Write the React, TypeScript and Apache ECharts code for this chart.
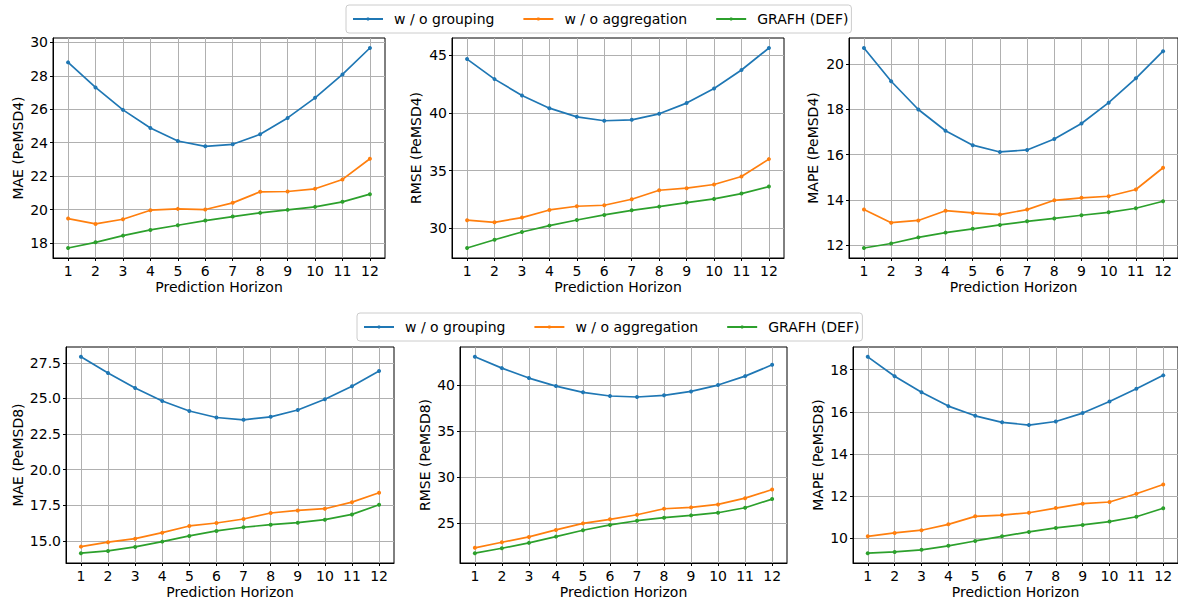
import React, { useEffect, useRef } from "react";
import * as echarts from "echarts";

const horizons = [1, 2, 3, 4, 5, 6, 7, 8, 9, 10, 11, 12];
const seriesNames = ["w / o grouping", "w / o aggregation", "GRAFH (DEF)"];
const colors = ["#1f77b4", "#ff7f0e", "#2ca02c"];

const mae4Grouping = [28.8, 27.3, 25.96, 24.88, 24.1, 23.78, 23.9, 24.5, 25.48, 26.68, 28.08, 29.66];
const mae4Aggregation = [19.46, 19.14, 19.42, 19.96, 20.04, 20.0, 20.4, 21.06, 21.08, 21.24, 21.8, 23.04];
const mae4Grafh = [17.7, 18.04, 18.44, 18.78, 19.06, 19.34, 19.58, 19.8, 19.98, 20.16, 20.46, 20.92];

const rmse4Grouping = [44.68, 42.94, 41.52, 40.42, 39.67, 39.33, 39.41, 39.93, 40.86, 42.13, 43.73, 45.64];
const rmse4Aggregation = [30.7, 30.52, 30.93, 31.59, 31.91, 32.0, 32.52, 33.3, 33.48, 33.8, 34.49, 36.0];
const rmse4Grafh = [28.29, 29.01, 29.68, 30.23, 30.72, 31.16, 31.56, 31.88, 32.23, 32.55, 33.01, 33.62];

const mape4Grouping = [20.72, 19.25, 18.0, 17.06, 16.42, 16.12, 16.21, 16.69, 17.38, 18.3, 19.38, 20.58];
const mape4Aggregation = [13.57, 12.99, 13.09, 13.52, 13.42, 13.35, 13.57, 13.98, 14.09, 14.16, 14.46, 15.42];
const mape4Grafh = [11.87, 12.07, 12.34, 12.55, 12.72, 12.89, 13.05, 13.18, 13.32, 13.45, 13.63, 13.94];

const mae8Grouping = [27.92, 26.78, 25.73, 24.82, 24.12, 23.66, 23.5, 23.71, 24.19, 24.94, 25.85, 26.92];
const mae8Aggregation = [14.6, 14.91, 15.16, 15.58, 16.05, 16.26, 16.54, 16.96, 17.14, 17.26, 17.72, 18.38];
const mae8Grafh = [14.14, 14.3, 14.58, 14.95, 15.35, 15.7, 15.96, 16.14, 16.28, 16.49, 16.86, 17.54];

const rmse8Grouping = [43.07, 41.84, 40.76, 39.89, 39.21, 38.81, 38.7, 38.88, 39.31, 40.0, 40.97, 42.2];
const rmse8Aggregation = [22.3, 22.91, 23.49, 24.25, 24.96, 25.4, 25.9, 26.55, 26.7, 27.02, 27.7, 28.64];
const rmse8Grafh = [21.72, 22.26, 22.84, 23.52, 24.21, 24.79, 25.25, 25.58, 25.83, 26.12, 26.66, 27.6];

const mape8Grouping = [18.61, 17.69, 16.93, 16.27, 15.81, 15.5, 15.37, 15.54, 15.94, 16.49, 17.09, 17.73];
const mape8Aggregation = [10.09, 10.25, 10.38, 10.66, 11.04, 11.1, 11.21, 11.43, 11.64, 11.72, 12.11, 12.55];
const mape8Grafh = [9.29, 9.35, 9.45, 9.64, 9.87, 10.09, 10.3, 10.49, 10.63, 10.79, 11.02, 11.42];

const ticksMae4 = [18, 20, 22, 24, 26, 28, 30];
const ticksRmse4 = [30, 35, 40, 45];
const ticksMape4 = [12, 14, 16, 18, 20];
const ticksMae8 = [15, 17.5, 20, 22.5, 25, 27.5];
const ticksRmse8 = [25, 30, 35, 40];
const ticksMape8 = [10, 12, 14, 16, 18];

const xAxisTitle = "Prediction Horizon";

const panels = [
  { ylabel: "MAE (PeMSD4)", data: [mae4Grouping, mae4Aggregation, mae4Grafh], ticks: ticksMae4, decimals: 0,
    grid: { left: 53, top: 38, width: 332, height: 220 }, nameGap: 28 },
  { ylabel: "RMSE (PeMSD4)", data: [rmse4Grouping, rmse4Aggregation, rmse4Grafh], ticks: ticksRmse4, decimals: 0,
    grid: { left: 452, top: 38, width: 332, height: 220 }, nameGap: 29 },
  { ylabel: "MAPE (PeMSD4)", data: [mape4Grouping, mape4Aggregation, mape4Grafh], ticks: ticksMape4, decimals: 0,
    grid: { left: 849, top: 38, width: 332, height: 220 }, nameGap: 29 },
  { ylabel: "MAE (PeMSD8)", data: [mae8Grouping, mae8Aggregation, mae8Grafh], ticks: ticksMae8, decimals: 1,
    grid: { left: 66, top: 347, width: 328, height: 216 }, nameGap: 41 },
  { ylabel: "RMSE (PeMSD8)", data: [rmse8Grouping, rmse8Aggregation, rmse8Grafh], ticks: ticksRmse8, decimals: 0,
    grid: { left: 460, top: 347, width: 327, height: 216 }, nameGap: 28 },
  { ylabel: "MAPE (PeMSD8)", data: [mape8Grouping, mape8Aggregation, mape8Grafh], ticks: ticksMape8, decimals: 0,
    grid: { left: 853, top: 347, width: 329, height: 216 }, nameGap: 28 },
];

const FONT = "DejaVu Sans";

export default function App() {
  const ref = useRef<HTMLDivElement>(null);

  useEffect(() => {
    if (!ref.current) return;
    const chart = echarts.init(ref.current, null, { renderer: "svg" });

    const grids: any[] = [];
    const xAxes: any[] = [];
    const yAxes: any[] = [];
    const series: any[] = [];

    panels.forEach((p, i) => {
      const all = p.data.flat();
      const lo = Math.min(...all);
      const hi = Math.max(...all);
      const pad = (hi - lo) * 0.05;
      grids.push({
        ...p.grid,
        show: true,
        borderColor: "#000",
        borderWidth: 1,
        backgroundColor: "transparent",
        containLabel: false,
      });
      xAxes.push({
        type: "value",
        gridIndex: i,
        min: 0.45,
        max: 12.55,
        name: xAxisTitle,
        nameLocation: "middle",
        nameGap: 22,
        nameTextStyle: { fontFamily: FONT, fontSize: 14, color: "#000" },
        axisLine: { show: true, onZero: false, lineStyle: { color: "#000", width: 1 } },
        axisTick: { show: true, length: 3, inside: false, customValues: horizons, lineStyle: { color: "#000" } },
        axisLabel: { show: true, customValues: horizons, margin: 6, fontFamily: FONT, fontSize: 14, color: "#000" },
        splitLine: { show: true, lineStyle: { color: "#b0b0b0", width: 1 } },
      });
      yAxes.push({
        type: "value",
        gridIndex: i,
        min: lo - pad,
        max: hi + pad,
        name: p.ylabel,
        nameLocation: "middle",
        nameGap: p.nameGap,
        nameTextStyle: { fontFamily: FONT, fontSize: 14, color: "#000" },
        axisLine: { show: true, onZero: false, lineStyle: { color: "#000", width: 1 } },
        axisTick: { show: true, length: 3, inside: false, customValues: p.ticks, lineStyle: { color: "#000" } },
        axisLabel: {
          show: true,
          customValues: p.ticks,
          margin: 5,
          fontFamily: FONT,
          fontSize: 14,
          color: "#000",
          formatter: (v: number) => v.toFixed(p.decimals),
        },
        splitLine: { show: true, lineStyle: { color: "#b0b0b0", width: 1 } },
      });
      p.data.forEach((vals, k) => {
        series.push({
          type: "line",
          name: seriesNames[k],
          xAxisIndex: i,
          yAxisIndex: i,
          data: horizons.map((h, j) => [h, vals[j]]),
          symbol: "circle",
          symbolSize: 4,
          showSymbol: true,
          lineStyle: { color: colors[k], width: 1.7 },
          itemStyle: { color: colors[k] },
          z: 3 + k,
        });
      });
    });

    const legendBase = {
      data: seriesNames,
      orient: "horizontal",
      itemWidth: 30,
      itemHeight: 4,
      itemGap: 28,
      padding: [7, 3, 7, 6],
      borderColor: "#cccccc",
      borderWidth: 1,
      borderRadius: 3,
      backgroundColor: "rgba(255,255,255,0.8)",
      textStyle: { fontFamily: FONT, fontSize: 14, color: "#000", padding: [0, 0, 0, 6] },
      selectedMode: false,
    };

    chart.setOption({
      animation: false,
      color: colors,
      grid: grids,
      xAxis: xAxes,
      yAxis: yAxes,
      series,
      legend: [
        { ...legendBase, left: 346, top: 5 },
        { ...legendBase, left: 357, top: 313 },
      ],
    });

    return () => chart.dispose();
  }, []);

  return (
    <div
      ref={ref}
      style={{ position: "fixed", left: 0, top: 0, width: 1178, height: 604, background: "#fff" }}
    />
  );
}
